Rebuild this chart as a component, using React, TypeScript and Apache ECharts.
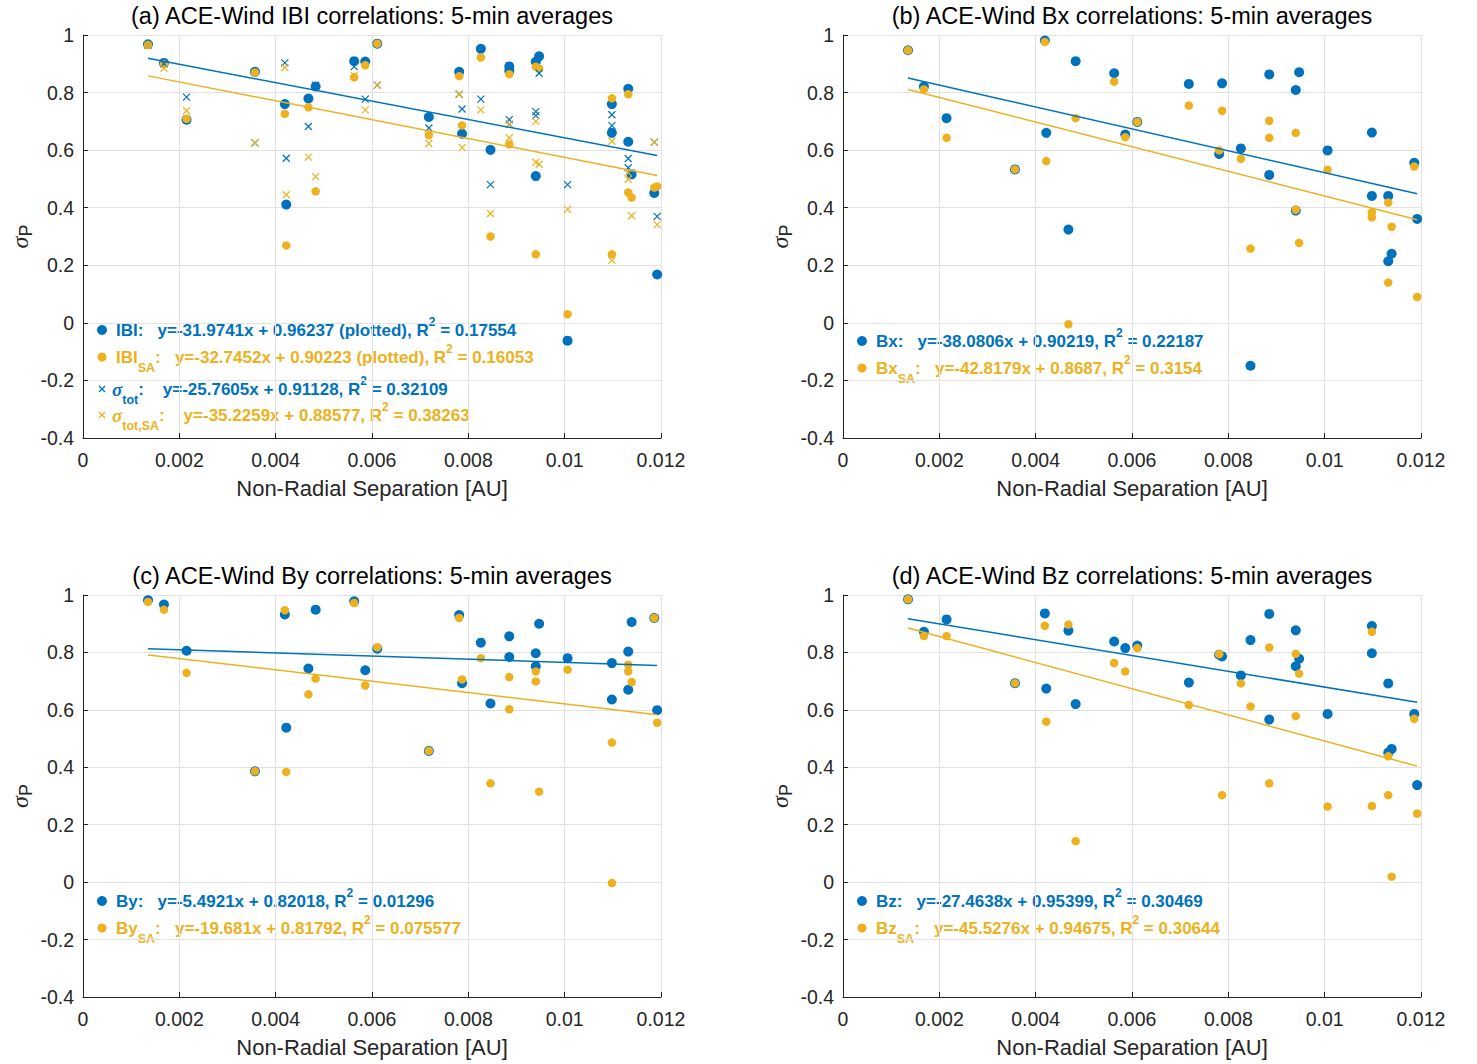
import React, { useEffect, useRef } from "react";
import * as echarts from "echarts";

const BLUE = "#0072BD";
const ORANGE = "#EDB120";
const AXIS = "#262626";
const GRIDC = "#e2e2e2";
const FONT = '"Liberation Sans", Arial, Helvetica, sans-serif';
const SERIF = '"Liberation Serif", "DejaVu Serif", serif';

const TITLES = [
  "(a) ACE-Wind IBI correlations: 5-min averages",
  "(b) ACE-Wind Bx correlations: 5-min averages",
  "(c) ACE-Wind By correlations: 5-min averages",
  "(d) ACE-Wind Bz correlations: 5-min averages",
];
const X_NAME = "Non-Radial Separation [AU]";
const X_TICKS = ["0", "0.002", "0.004", "0.006", "0.008", "0.01", "0.012"];
const Y_TICKS = ["-0.4", "-0.2", "0", "0.2", "0.4", "0.6", "0.8", "1"];

// Panel (a): |B|
const aB = [[0.00135,0.968],[0.00168,0.903],[0.00215,0.706],[0.00357,0.872],[0.00419,0.76],[0.00422,0.411],[0.00468,0.779],[0.00483,0.821],[0.00563,0.909],[0.00586,0.908],[0.00611,0.97],[0.00718,0.715],[0.00781,0.872],[0.00787,0.657],[0.00826,0.952],[0.00846,0.601],[0.00885,0.891],[0.00885,0.875],[0.0094,0.907],[0.0094,0.51],[0.00947,0.926],[0.01006,-0.062],[0.01098,0.76],[0.01098,0.66],[0.01132,0.813],[0.01132,0.629],[0.01139,0.516],[0.01186,0.451],[0.01192,0.168]];
const aBSA = [[0.00135,0.965],[0.00168,0.899],[0.00215,0.709],[0.00357,0.87],[0.00419,0.726],[0.00422,0.269],[0.00468,0.749],[0.00483,0.457],[0.00563,0.853],[0.00586,0.895],[0.00611,0.97],[0.00718,0.652],[0.00781,0.857],[0.00787,0.686],[0.00826,0.922],[0.00846,0.30],[0.00885,0.864],[0.00885,0.62],[0.0094,0.89],[0.0094,0.238],[0.00947,0.884],[0.01006,0.03],[0.01098,0.78],[0.01098,0.238],[0.01132,0.794],[0.01132,0.453],[0.01139,0.435],[0.01186,0.47],[0.01192,0.474]];
const aTot = [[0.00135,0.965],[0.00168,0.9],[0.00215,0.784],[0.00357,0.625],[0.00419,0.903],[0.00422,0.572],[0.00468,0.682],[0.00483,0.826],[0.00563,0.89],[0.00586,0.777],[0.00611,0.826],[0.00718,0.677],[0.00781,0.794],[0.00787,0.743],[0.00826,0.777],[0.00846,0.48],[0.00885,0.706],[0.00885,0.69],[0.0094,0.734],[0.0094,0.72],[0.00947,0.867],[0.01006,0.48],[0.01098,0.723],[0.01098,0.685],[0.01132,0.571],[0.01132,0.539],[0.01139,0.52],[0.01186,0.628],[0.01192,0.37]];
const aTotSA = [[0.00135,0.965],[0.00168,0.884],[0.00215,0.737],[0.00357,0.625],[0.00419,0.887],[0.00422,0.445],[0.00468,0.576],[0.00483,0.508],[0.00563,0.86],[0.00586,0.74],[0.00611,0.826],[0.00718,0.623],[0.00781,0.794],[0.00787,0.609],[0.00826,0.74],[0.00846,0.38],[0.00885,0.69],[0.00885,0.643],[0.0094,0.70],[0.0094,0.558],[0.00947,0.551],[0.01006,0.394],[0.01098,0.631],[0.01098,0.217],[0.01132,0.522],[0.01132,0.499],[0.01139,0.372],[0.01186,0.628],[0.01192,0.341]];

// Panel (b): Bx
const bBx = [[0.00135,0.947],[0.00168,0.821],[0.00215,0.711],[0.00357,0.533],[0.00419,0.981],[0.00422,0.66],[0.00468,0.324],[0.00483,0.909],[0.00563,0.867],[0.00586,0.654],[0.00611,0.698],[0.00718,0.83],[0.00781,0.587],[0.00787,0.832],[0.00826,0.606],[0.00846,-0.149],[0.00885,0.863],[0.00885,0.514],[0.0094,0.809],[0.0094,0.39],[0.00947,0.871],[0.01006,0.599],[0.01098,0.661],[0.01098,0.441],[0.01132,0.441],[0.01132,0.214],[0.01139,0.24],[0.01186,0.556],[0.01192,0.361]];
const bBxSA = [[0.00135,0.947],[0.00168,0.811],[0.00215,0.643],[0.00357,0.533],[0.00419,0.976],[0.00422,0.562],[0.00468,-0.005],[0.00483,0.711],[0.00563,0.838],[0.00586,0.645],[0.00611,0.698],[0.00718,0.755],[0.00781,0.599],[0.00787,0.737],[0.00826,0.57],[0.00846,0.258],[0.00885,0.702],[0.00885,0.643],[0.0094,0.66],[0.0094,0.393],[0.00947,0.278],[0.01006,0.532],[0.01098,0.384],[0.01098,0.367],[0.01132,0.418],[0.01132,0.14],[0.01139,0.334],[0.01186,0.543],[0.01192,0.09]];

// Panel (c): By
const cBy = [[0.00135,0.982],[0.00168,0.967],[0.00215,0.806],[0.00357,0.386],[0.00419,0.932],[0.00422,0.538],[0.00468,0.744],[0.00483,0.949],[0.00563,0.978],[0.00586,0.738],[0.00611,0.813],[0.00718,0.457],[0.00781,0.93],[0.00787,0.693],[0.00826,0.834],[0.00846,0.622],[0.00885,0.856],[0.00885,0.784],[0.0094,0.797],[0.0094,0.752],[0.00947,0.90],[0.01006,0.78],[0.01098,0.763],[0.01098,0.636],[0.01132,0.803],[0.01132,0.67],[0.01139,0.906],[0.01186,0.92],[0.01192,0.599]];
const cBySA = [[0.00135,0.976],[0.00168,0.949],[0.00215,0.729],[0.00357,0.386],[0.00419,0.947],[0.00422,0.384],[0.00468,0.654],[0.00483,0.709],[0.00563,0.972],[0.00586,0.685],[0.00611,0.818],[0.00718,0.457],[0.00781,0.92],[0.00787,0.706],[0.00826,0.78],[0.00846,0.344],[0.00885,0.714],[0.00885,0.602],[0.0094,0.734],[0.0094,0.699],[0.00947,0.315],[0.01006,0.74],[0.01098,0.486],[0.01098,-0.003],[0.01132,0.757],[0.01132,0.734],[0.01139,0.697],[0.01186,0.92],[0.01192,0.555]];

// Panel (d): Bz
const dBz = [[0.00135,0.985],[0.00168,0.872],[0.00215,0.915],[0.00357,0.693],[0.00419,0.936],[0.00422,0.674],[0.00468,0.876],[0.00483,0.62],[0.00563,0.838],[0.00586,0.815],[0.00611,0.824],[0.00718,0.695],[0.00781,0.792],[0.00787,0.786],[0.00826,0.72],[0.00846,0.843],[0.00885,0.934],[0.00885,0.566],[0.0094,0.877],[0.0094,0.752],[0.00947,0.778],[0.01006,0.586],[0.01098,0.892],[0.01098,0.797],[0.01132,0.692],[0.01132,0.451],[0.01139,0.464],[0.01186,0.586],[0.01192,0.338]];
const dBzSA = [[0.00135,0.985],[0.00168,0.857],[0.00215,0.857],[0.00357,0.693],[0.00419,0.893],[0.00422,0.559],[0.00468,0.897],[0.00483,0.143],[0.00563,0.763],[0.00586,0.734],[0.00611,0.815],[0.00718,0.617],[0.00781,0.794],[0.00787,0.303],[0.00826,0.692],[0.00846,0.612],[0.00885,0.817],[0.00885,0.344],[0.0094,0.795],[0.0094,0.578],[0.00947,0.726],[0.01006,0.263],[0.01098,0.872],[0.01098,0.265],[0.01132,0.438],[0.01132,0.303],[0.01139,0.019],[0.01186,0.569],[0.01192,0.239]];

// Fit coefficients [slope, intercept, R^2]
const fitAB = [-31.9741, 0.96237, 0.17554];
const fitABSA = [-32.7452, 0.90223, 0.16053];
const fitATot = [-25.7605, 0.91128, 0.32109];
const fitATotSA = [-35.2259, 0.88577, 0.38263];
const fitBx = [-38.0806, 0.90219, 0.22187];
const fitBxSA = [-42.8179, 0.8687, 0.3154];
const fitBy = [-5.4921, 0.82018, 0.01296];
const fitBySA = [-19.681, 0.81792, 0.075577];
const fitBz = [-27.4638, 0.95399, 0.30469];
const fitBzSA = [-45.5276, 0.94675, 0.30644];

const PLOT_W = 578;
const LEFTS = [83, 843, 83, 843];
const TOPS = [35, 35, 595, 595];
const HEIGHTS = [403, 403, 402, 402];

const CROSS = "path://M0,0L10,10M10,0L0,10";

function fitLine(fit: number[], pts: number[][]) {
  const xs = pts.map((p) => p[0]);
  const x0 = Math.min(...xs);
  const x1 = Math.max(...xs);
  return [
    [x0, fit[0] * x0 + fit[1]],
    [x1, fit[0] * x1 + fit[1]],
  ];
}

function eq(fit: number[], plotted: boolean) {
  return `y=${fit[0]}x + ${fit[1]}${plotted ? " (plotted)" : ""}, R`;
}

const RICH = {
  m: { fontFamily: FONT, fontWeight: "bold", fontSize: 17, lineHeight: 34, verticalAlign: "middle" },
  sub: { fontFamily: FONT, fontWeight: "bold", fontSize: 12.5, lineHeight: 14, verticalAlign: "bottom" },
  sup: { fontFamily: FONT, fontWeight: "bold", fontSize: 12, lineHeight: 26, verticalAlign: "top", padding: [3, 0, 0, 0] },
  g: { fontFamily: SERIF, fontWeight: "bold", fontStyle: "italic", fontSize: 19, lineHeight: 34, verticalAlign: "middle" },
};

function colored(color: string) {
  const r: any = {};
  Object.keys(RICH).forEach((k) => {
    r[k] = { ...(RICH as any)[k], fill: color, color };
  });
  return r;
}

type Row = { y: number; color: string; marker: "dot" | "cross"; text: string };

const LEGENDS: Row[][] = [
  [
    { y: 330, color: BLUE, marker: "dot", text: `{m|IBI:   }{m|${eq(fitAB, true)}}{sup|2}{m| }{m|= ${fitAB[2]}}` },
    { y: 357, color: ORANGE, marker: "dot", text: `{m|IBI}{sub|SA}{m|:   }{m|${eq(fitABSA, true)}}{sup|2}{m| }{m|= ${fitABSA[2]}}` },
    { y: 389, color: BLUE, marker: "cross", text: `{g|σ}{sub|tot}{m|:    }{m|${eq(fitATot, false)}}{sup|2}{m| }{m|= ${fitATot[2]}}` },
    { y: 415, color: ORANGE, marker: "cross", text: `{g|σ}{sub|tot,SA}{m|:    }{m|${eq(fitATotSA, false)}}{sup|2}{m| }{m|= ${fitATotSA[2]}}` },
  ],
  [
    { y: 341, color: BLUE, marker: "dot", text: `{m|Bx:   }{m|${eq(fitBx, false)}}{sup|2}{m| }{m|= ${fitBx[2]}}` },
    { y: 368, color: ORANGE, marker: "dot", text: `{m|Bx}{sub|SA}{m|:   }{m|${eq(fitBxSA, false)}}{sup|2}{m| }{m|= ${fitBxSA[2]}}` },
  ],
  [
    { y: 901, color: BLUE, marker: "dot", text: `{m|By:   }{m|${eq(fitBy, false)}}{sup|2}{m| }{m|= ${fitBy[2]}}` },
    { y: 928, color: ORANGE, marker: "dot", text: `{m|By}{sub|SA}{m|:   }{m|${eq(fitBySA, false)}}{sup|2}{m| }{m|= ${fitBySA[2]}}` },
  ],
  [
    { y: 901, color: BLUE, marker: "dot", text: `{m|Bz:   }{m|${eq(fitBz, false)}}{sup|2}{m| }{m|= ${fitBz[2]}}` },
    { y: 928, color: ORANGE, marker: "dot", text: `{m|Bz}{sub|SA}{m|:   }{m|${eq(fitBzSA, false)}}{sup|2}{m| }{m|= ${fitBzSA[2]}}` },
  ],
];

const PANEL_DATA = [
  { blue: aB, orange: aBSA, blueX: aTot, orangeX: aTotSA, fitB: fitAB, fitO: fitABSA },
  { blue: bBx, orange: bBxSA, blueX: null, orangeX: null, fitB: fitBx, fitO: fitBxSA },
  { blue: cBy, orange: cBySA, blueX: null, orangeX: null, fitB: fitBy, fitO: fitBySA },
  { blue: dBz, orange: dBzSA, blueX: null, orangeX: null, fitB: fitBz, fitO: fitBzSA },
];

function buildOption() {
  const grid = LEFTS.map((l, i) => ({ left: l, top: TOPS[i], width: PLOT_W, height: HEIGHTS[i] }));
  const xAxis = LEFTS.map((_, i) => ({
    gridIndex: i,
    type: "value",
    min: 0,
    max: 0.012,
    interval: 0.002,
    name: X_NAME,
    nameLocation: "middle",
    nameGap: 39,
    nameTextStyle: { fontSize: 22, color: AXIS, fontFamily: FONT },
    axisLine: { show: true, onZero: false, lineStyle: { color: AXIS, width: 1 } },
    axisTick: { show: true, inside: true, length: 5, lineStyle: { color: AXIS } },
    axisLabel: {
      fontSize: 19.5,
      color: AXIS,
      fontFamily: FONT,
      margin: 12,
      formatter: (v: number) => X_TICKS[Math.round(v / 0.002)] ?? "",
    },
    splitLine: { show: true, lineStyle: { color: GRIDC, width: 1 } },
  }));
  const yAxis = LEFTS.map((_, i) => ({
    gridIndex: i,
    type: "value",
    min: -0.4,
    max: 1,
    interval: 0.2,
    axisLine: { show: true, onZero: false, lineStyle: { color: AXIS, width: 1 } },
    axisTick: { show: true, inside: true, length: 5, lineStyle: { color: AXIS } },
    axisLabel: {
      fontSize: 19.5,
      color: AXIS,
      fontFamily: FONT,
      margin: 9,
      formatter: (v: number) => Y_TICKS[Math.round((v + 0.4) / 0.2)] ?? "",
    },
    splitLine: { show: true, lineStyle: { color: GRIDC, width: 1 } },
  }));

  const series: any[] = [];
  PANEL_DATA.forEach((p, i) => {
    const base = { xAxisIndex: i, yAxisIndex: i };
    series.push({ ...base, type: "scatter", data: p.blue, symbol: "circle", symbolSize: 10, itemStyle: { color: BLUE, opacity: 1 }, z: 2 });
    series.push({ ...base, type: "scatter", data: p.orange, symbol: "circle", symbolSize: 8.5, itemStyle: { color: ORANGE, opacity: 1 }, z: 2 });
    if (p.blueX) {
      series.push({ ...base, type: "scatter", data: p.blueX, symbol: CROSS, symbolSize: 7, itemStyle: { color: BLUE, borderColor: BLUE, borderWidth: 1.2, opacity: 1 }, z: 3 });
    }
    if (p.orangeX) {
      series.push({ ...base, type: "scatter", data: p.orangeX, symbol: CROSS, symbolSize: 7, itemStyle: { color: ORANGE, borderColor: ORANGE, borderWidth: 1.2, opacity: 1 }, z: 3 });
    }
    series.push({ ...base, type: "line", data: fitLine(p.fitB, p.blue), showSymbol: false, symbol: "none", lineStyle: { color: BLUE, width: 1.5 }, z: 4 });
    series.push({ ...base, type: "line", data: fitLine(p.fitO, p.orange), showSymbol: false, symbol: "none", lineStyle: { color: ORANGE, width: 1.5 }, z: 4 });
  });

  const graphic: any[] = [];
  LEFTS.forEach((l, i) => {
    graphic.push({
      type: "text",
      x: l + PLOT_W / 2,
      y: TOPS[i] - 19,
      style: { text: TITLES[i], fontSize: 23.5, fontFamily: FONT, fill: "#000", align: "center", verticalAlign: "middle" },
    });
    graphic.push({
      type: "text",
      x: l - 63,
      y: TOPS[i] + HEIGHTS[i] / 2,
      rotation: Math.PI / 2,
      style: {
        text: "{s|σ}{p|P}",
        align: "center",
        verticalAlign: "middle",
        rich: {
          s: { fontFamily: SERIF, fontStyle: "italic", fontSize: 24, lineHeight: 30, verticalAlign: "middle", fill: AXIS },
          p: { fontFamily: FONT, fontSize: 18, lineHeight: 15, verticalAlign: "bottom", fill: AXIS },
        },
      },
    });
    LEGENDS[i].forEach((row) => {
      const mx = l + 19;
      if (row.marker === "dot") {
        graphic.push({ type: "circle", shape: { cx: mx, cy: row.y, r: row.color === BLUE ? 5 : 4.5 }, style: { fill: row.color } });
      } else {
        const s = 3;
        graphic.push({ type: "line", shape: { x1: mx - s, y1: row.y - s, x2: mx + s, y2: row.y + s }, style: { stroke: row.color, lineWidth: 1.2 } });
        graphic.push({ type: "line", shape: { x1: mx - s, y1: row.y + s, x2: mx + s, y2: row.y - s }, style: { stroke: row.color, lineWidth: 1.2 } });
      }
      graphic.push({
        type: "text",
        x: row.marker === "dot" ? l + 33 : l + 29,
        y: row.y,
        style: { text: row.text, align: "left", verticalAlign: "middle", rich: colored(row.color), fill: row.color },
      });
    });
  });

  return {
    animation: false,
    backgroundColor: "#ffffff",
    grid,
    xAxis,
    yAxis,
    series,
    graphic,
  };
}

export default function App() {
  const ref = useRef<HTMLDivElement>(null);
  useEffect(() => {
    if (!ref.current) return;
    const chart = echarts.init(ref.current, null, { renderer: "svg" });
    chart.setOption(buildOption() as any);
    return () => chart.dispose();
  }, []);
  return (
    <div
      ref={ref}
      style={{ position: "absolute", left: 0, top: 0, width: 1477, height: 1064, background: "#fff" }}
    />
  );
}
